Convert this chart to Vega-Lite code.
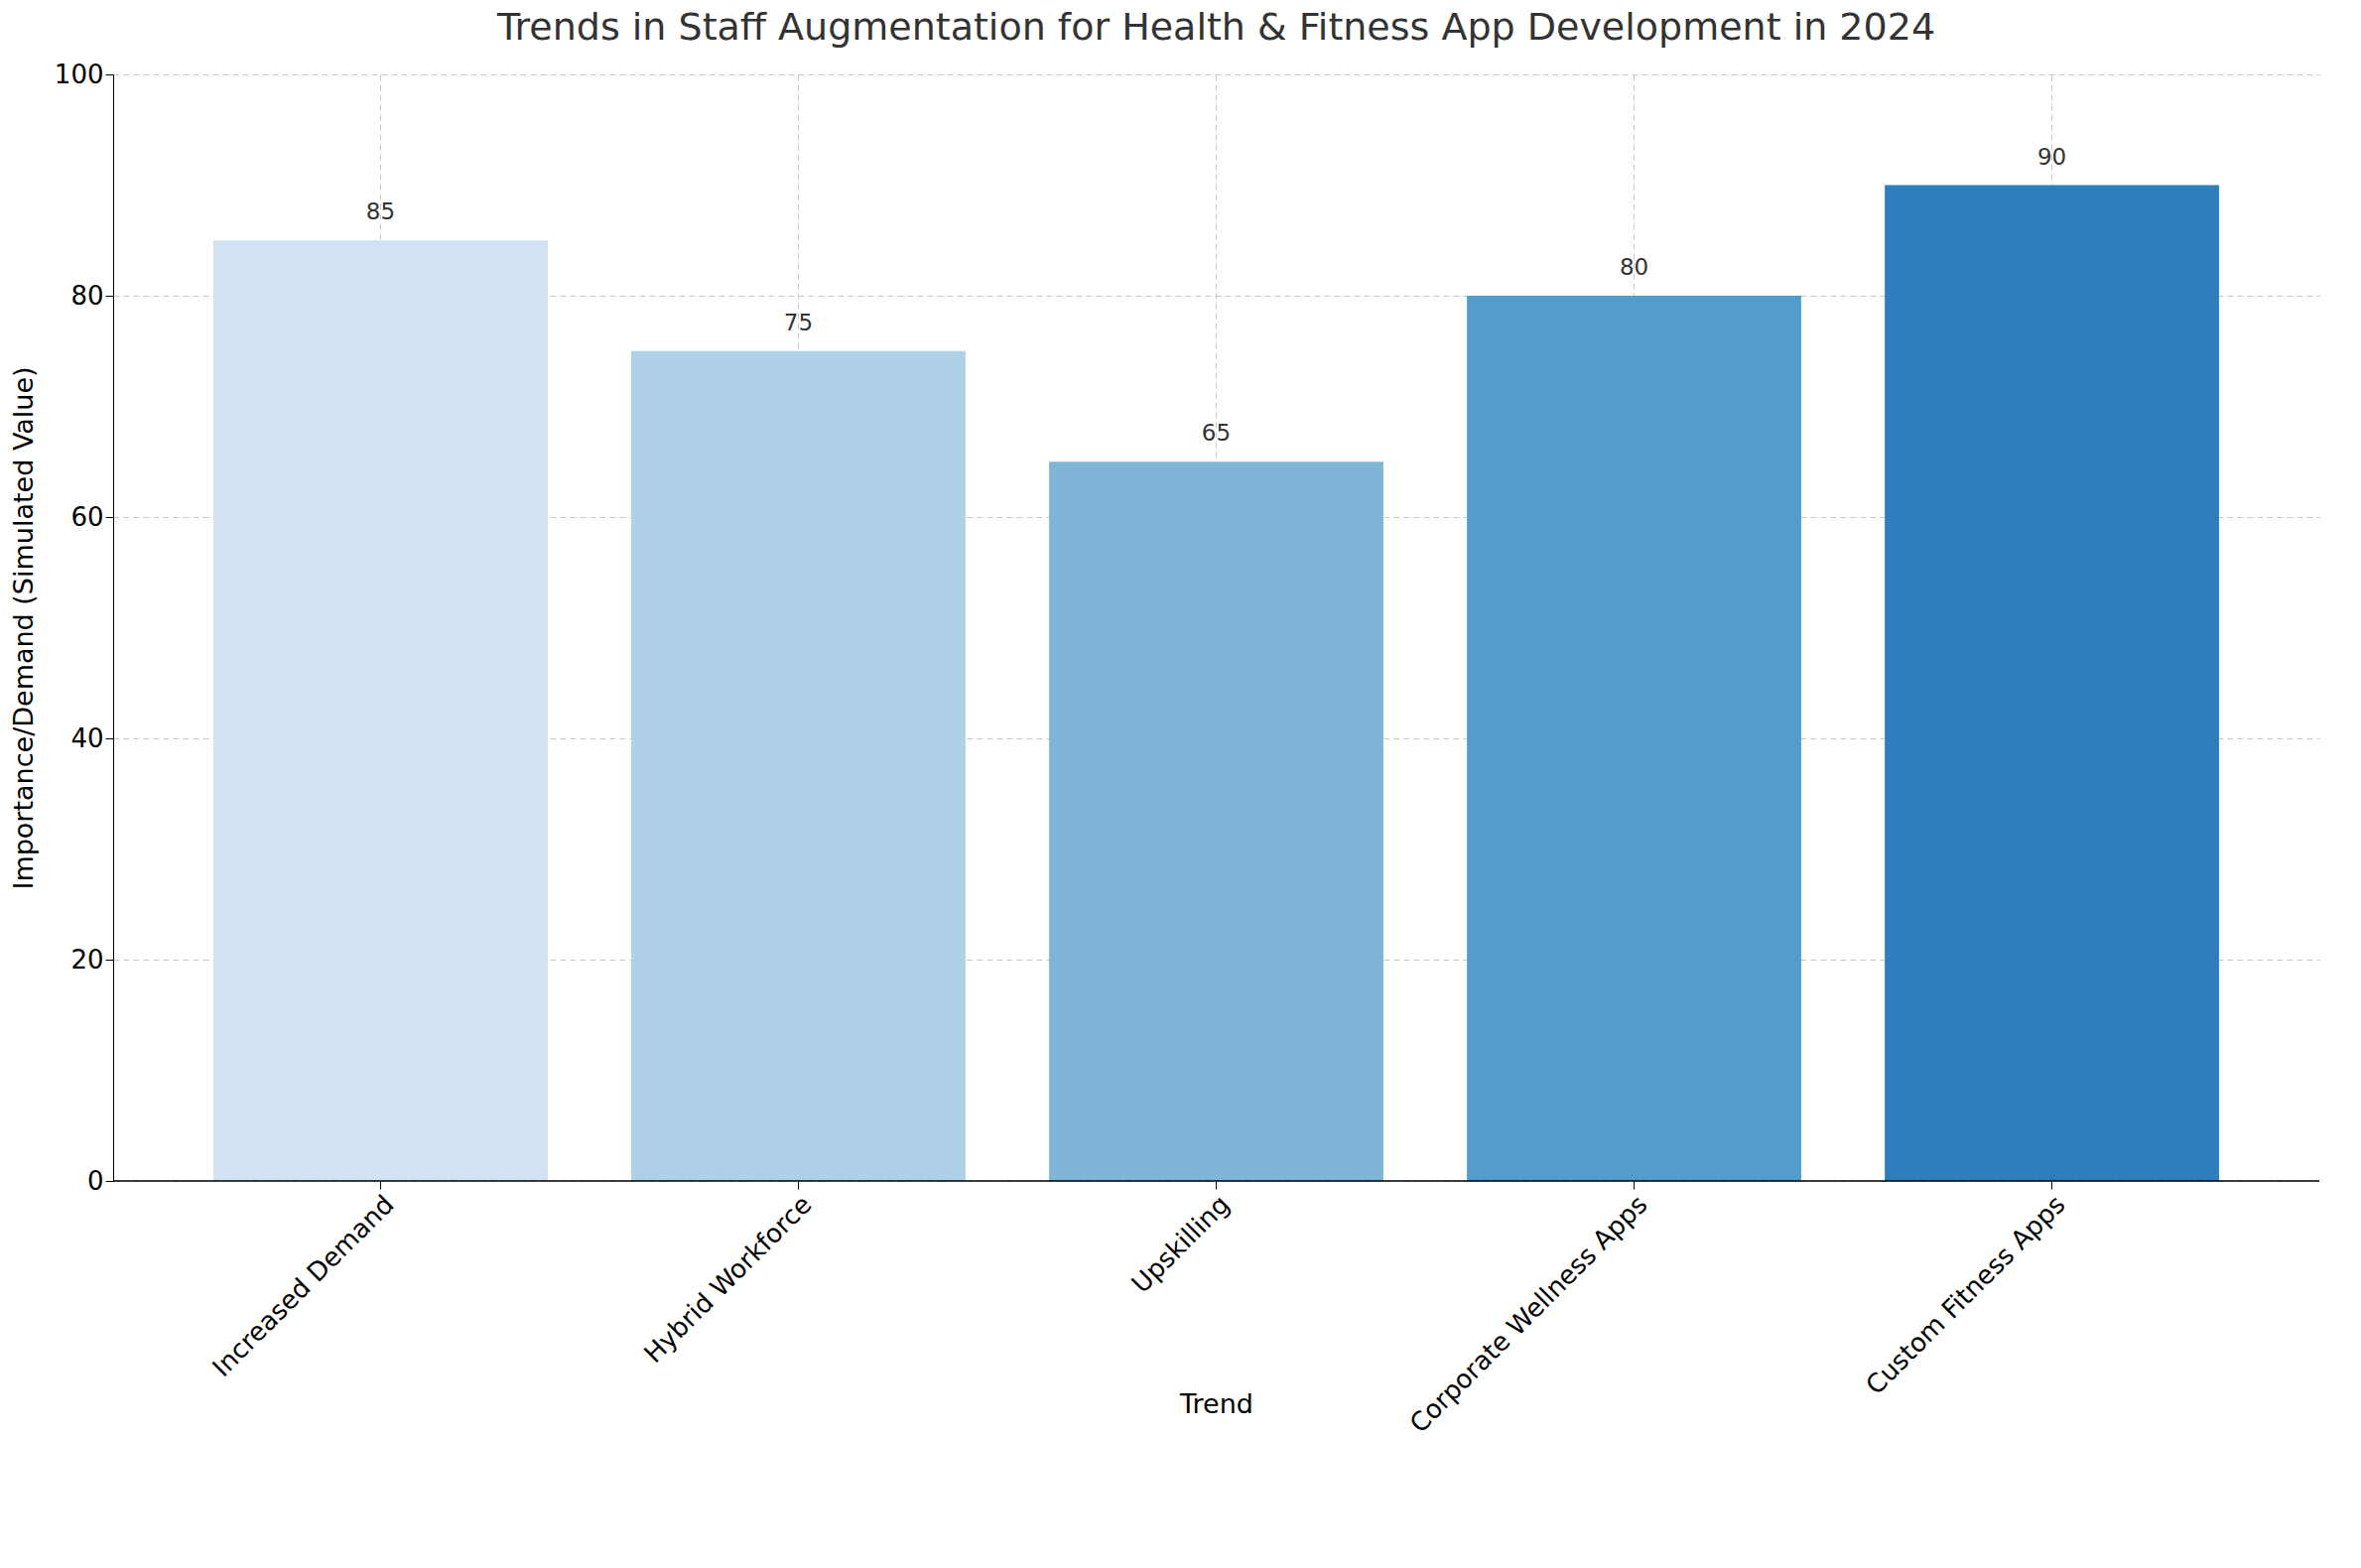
{
  "$schema": "https://vega.github.io/schema/vega-lite/v6.json",
  "width": 2223,
  "height": 1115,
  "background": "white",
  "padding": {"left": 10, "top": 10, "right": 18, "bottom": 5},
  "config": {
    "font": "DejaVu Sans",
    "view": {"stroke": null},
    "axis": {
      "labelFontSize": 26,
      "titleFontSize": 27,
      "titleFontWeight": "normal",
      "labelColor": "#000",
      "titleColor": "#000",
      "domainColor": "#000",
      "tickColor": "#000",
      "gridColor": "#b0b0b0",
      "gridDash": [6, 4],
      "gridOpacity": 0.7,
      "labelLimit": 0
    }
  },
  "title": {
    "text": "Trends in Staff Augmentation for Health & Fitness App Development in 2024",
    "fontSize": 38,
    "fontWeight": "normal",
    "color": "#333",
    "offset": 14
  },
  "data": {
    "values": [
      {"trend": "Increased Demand", "value": 85},
      {"trend": "Hybrid Workforce", "value": 75},
      {"trend": "Upskilling", "value": 65},
      {"trend": "Corporate Wellness Apps", "value": 80},
      {"trend": "Custom Fitness Apps", "value": 90}
    ]
  },
  "encoding": {
    "x": {
      "field": "trend",
      "type": "nominal",
      "sort": null,
      "title": "Trend",
      "scale": {"paddingInner": 0.2, "paddingOuter": 0.24},
      "axis": {"labelAngle": -45, "labelAlign": "right", "labelBaseline": "top", "grid": true, "gridDash": [6, 4], "domain": false, "tickSize": 8, "titlePadding": 12}
    },
    "y": {
      "field": "value",
      "type": "quantitative",
      "title": "Importance/Demand (Simulated Value)",
      "scale": {"domain": [0, 100]},
      "axis": {"values": [0, 20, 40, 60, 80, 100], "tickSize": 8, "titlePadding": 16}
    }
  },
  "layer": [
    {
      "mark": {"type": "bar"},
      "encoding": {
        "color": {
          "field": "trend",
          "type": "nominal",
          "sort": null,
          "legend": null,
          "scale": {
            "domain": ["Increased Demand", "Hybrid Workforce", "Upskilling", "Corporate Wellness Apps", "Custom Fitness Apps"],
            "range": ["#d1e2f2", "#aed1e7", "#7fb5d7", "#529dcc", "#2e7ebc"]
          }
        }
      }
    },
    {
      "mark": {"type": "text", "baseline": "bottom", "dy": -16, "fontSize": 23, "color": "#333"},
      "encoding": {"text": {"field": "value", "type": "quantitative"}}
    },
    {
      "data": {"values": [{"y": 0}]},
      "mark": {"type": "rule", "color": "#000", "strokeWidth": 1.5},
      "encoding": {"y": {"field": "y", "type": "quantitative"}, "x": null}
    }
  ]
}
